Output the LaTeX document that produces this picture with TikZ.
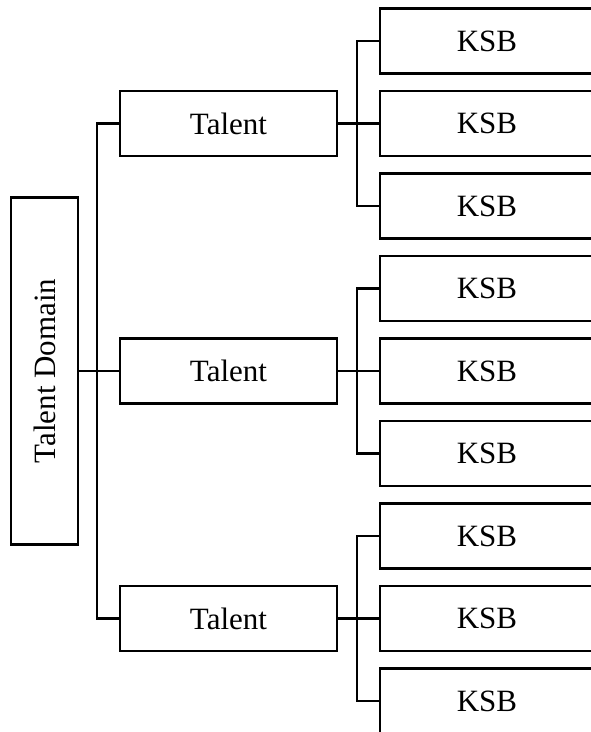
\documentclass[tikz,border=0pt]{standalone}
\usepackage{fontspec}
\setmainfont{Liberation Serif}
\begin{document}
\begin{tikzpicture}[x=1pt, y=-1pt, line width=2.2pt,
    box/.style={draw, minimum width=217pt, minimum height=65pt, inner sep=0pt, font=\fontsize{31}{37}\selectfont}]
\useasboundingbox (0,0) rectangle (591,732);
\clip (0,0) rectangle (591,732);
\node[box, minimum width=347pt, minimum height=67pt, rotate=90] (dom) at (44.5,371) {Talent Domain};
\foreach \i/\y in {1/123.5,2/371,3/618.5}
{
    \node[box] (t\i) at (228.5,\y) {Talent};
    \foreach \j in {1,2,3}
        \node[box, minimum width=214pt] (k\i\j) at (487,{\y+82.5*(\j-2)}) {KSB};
    \draw (k\i1.west) -- ++(-22,0) |- (k\i3.west);
    \draw (t\i.east) -- (k\i2.west);
}
\draw (t1.west) -- ++(-22,0) |- (t3.west);
\draw (dom.south) -- (t2.west);
\end{tikzpicture}
\end{document}
